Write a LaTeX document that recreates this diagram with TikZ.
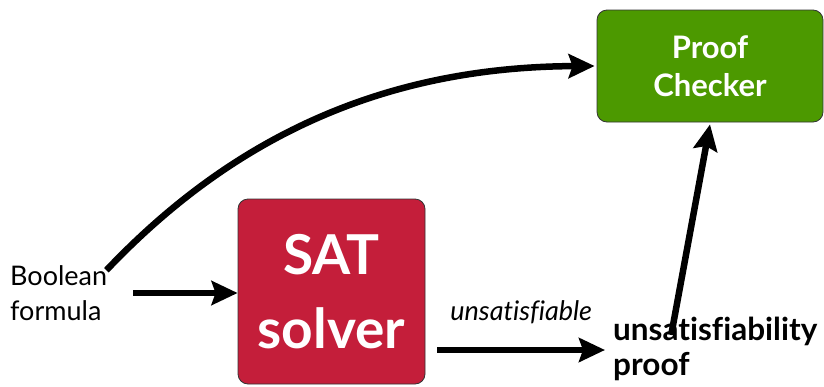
\documentclass[tikz,border=0pt]{standalone}
\usepackage{fontspec}
\setmainfont[Ligatures=NoCommon]{Lato}
\usetikzlibrary{arrows.meta,calc}
\definecolor{checkgreen}{RGB}{76,153,0}
\definecolor{satred}{RGB}{196,30,58}
\newcommand{\nofi}{f\kern0pt i}
\begin{document}
\begin{tikzpicture}[x=1pt,y=-1pt,
  box/.style={draw=black!80,line width=0.8pt,rounded corners=10pt,text=white,font=\bfseries,align=center,inner sep=0pt},
  arr/.style={line width=6.5pt,-{Stealth[length=26pt,width=24pt,inset=4pt]}},
  plain/.style={inner sep=0pt,align=left}]
\useasboundingbox (0,0) rectangle (824,386);
\node[box,fill=checkgreen,minimum width=226pt,minimum height=112pt,
  font=\fontsize{31}{38}\bfseries] (check) at (710,66) {Proof\\Checker};
\node[box,fill=satred,minimum width=187pt,minimum height=185pt,
  font=\fontsize{55}{74}\bfseries] (sat) at (331.5,291.5) {SAT\\solver};
\node[plain,anchor=west,font=\fontsize{27}{35}\selectfont] (bool) at (10,293) {Boolean\\formula};
\node[plain,anchor=west,font=\fontsize{31.5}{35}\bfseries] (proof) at (613,349) {unsatis\nofi ability\\proof};
\draw[arr] ([xshift=26pt]bool.east) -- (sat.west |- bool.east);
\draw[arr] ([xshift=12pt]sat.east |- 0,350) -- ([xshift=-8pt]proof.west |- 0,350)
  node[midway,above=20pt,font=\fontsize{27}{30}\itshape] (lab) {unsatis\nofi able};
\draw[arr] ([xshift=-44pt,yshift=-18pt]proof.north) -- ([yshift=-2pt]check.south);
\coordinate (cstart) at ([xshift=-1pt,yshift=-5pt]bool.north east);
\draw[arr] (cstart) .. controls (230,140) and (380,67) .. ([xshift=-2pt]check.west);
\end{tikzpicture}
\end{document}
